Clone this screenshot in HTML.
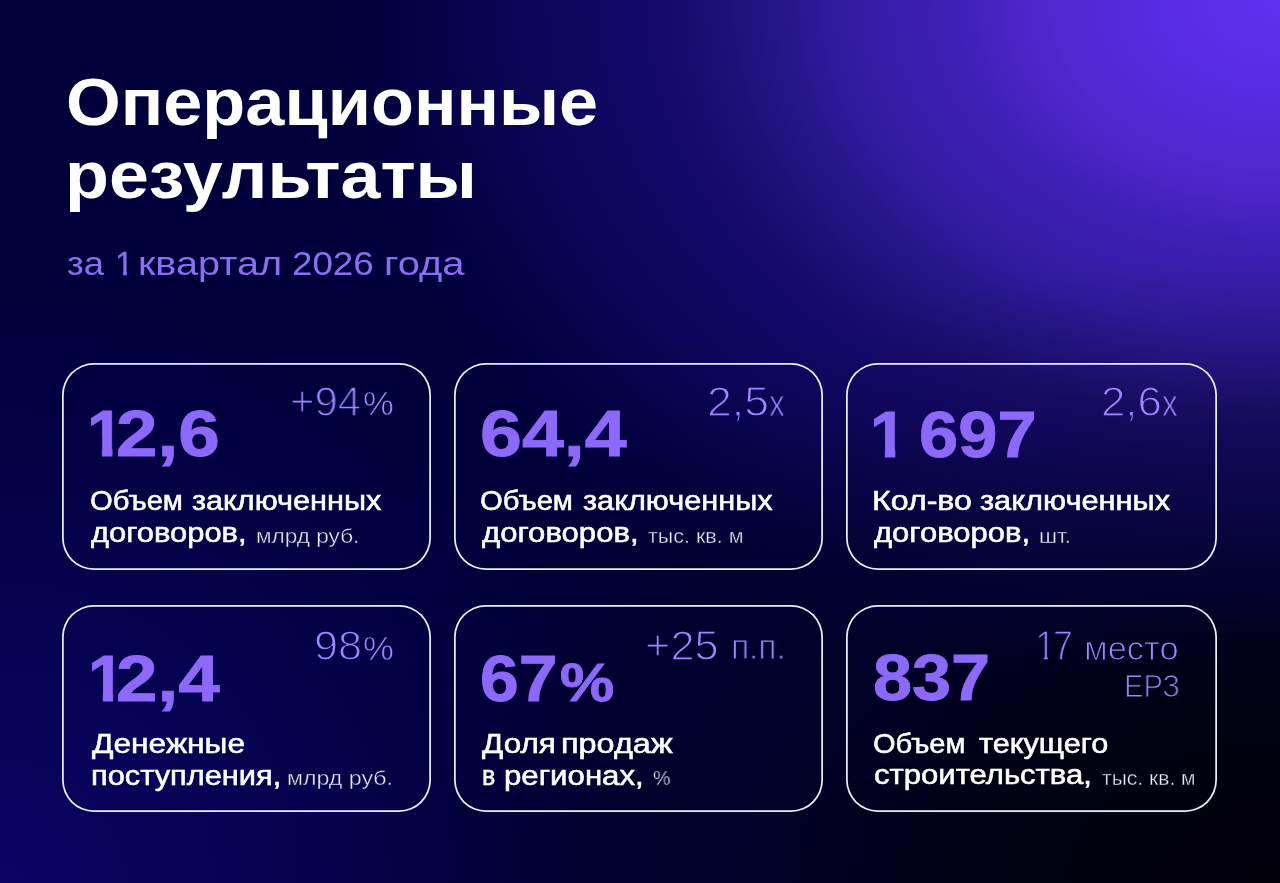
<!DOCTYPE html>
<html lang="ru"><head><meta charset="utf-8"><title>Операционные результаты</title>
<style>
html,body,h1,p{margin:0;padding:0}
h1,p{font:inherit}
body{width:1280px;height:883px;overflow:hidden;position:relative;font-family:"Liberation Sans",sans-serif;background:
 radial-gradient(ellipse 1000px 667px at 100% 100%, rgba(1,0,5,.93) 0%, rgba(1,0,5,.72) 32%, rgba(1,0,5,.45) 44%, rgba(1,0,5,.32) 55%, rgba(1,0,5,.26) 64%, rgba(1,0,5,.10) 80%, rgba(1,0,5,0) 95%),
 radial-gradient(circle 620px at 0% 100%, rgba(9,4,100,1) 0%, rgba(9,4,100,.45) 50%, rgba(9,4,100,0) 100%),
 radial-gradient(ellipse 1000px 738px at 100% 0%, rgb(96,48,238) 0%, rgb(88,44,226) 12%, rgb(78,40,208) 23%, rgb(71,36,194) 28%, rgb(63,32,184) 32%, rgb(55,29,170) 39%, rgb(47,26,156) 45%, rgb(37,20,134) 51%, rgb(28,14,114) 57%, rgb(19,8,106) 64%, rgb(13,6,92) 72%, rgb(8,4,80) 80%, rgb(4,1,66) 88%, rgb(2,0,58) 96%),
 rgb(2,0,58);}
.card{position:absolute;box-sizing:border-box;border-radius:32px;box-shadow:inset 0 0 0 1.75px rgba(246,244,255,.97);}
.t{position:absolute;white-space:nowrap;transform-origin:0 50%;margin:0;will-change:transform}
</style></head><body>

<header>
<h1>
<span class="t" style="left:66.20px;top:62.18px;font-size:67px;line-height:80px;height:80px;font-weight:700;color:#ffffff;transform:scaleX(1.0502);">Операционные</span>
<span class="t" style="left:64.91px;top:135.08px;font-size:67px;line-height:80px;height:80px;font-weight:700;color:#ffffff;transform:scaleX(1.0722);">результаты</span>
</h1>
<p>
<span class="t" style="left:66.60px;top:244.07px;font-size:33px;line-height:40px;height:40px;font-weight:400;color:#8b6ff0;transform:scaleX(1.1046);">за</span>
<span class="t bd" style="left:114.82px;top:243.92px;font-size:33px;line-height:40px;height:40px;font-weight:400;color:#8b6ff0;transform:scaleX(1.0189);-webkit-text-stroke:0.3px #8b6ff0;clip-path:polygon(-5px -5px,11.67px -5px,11.67px 200%,7.80px 200%,7.80px 21.86px,-5px 21.86px);">1</span>
<span class="t" style="left:137.70px;top:244.07px;font-size:33px;line-height:40px;height:40px;font-weight:400;color:#8b6ff0;transform:scaleX(1.2016);">квартал</span>
<span class="t" style="left:292.09px;top:244.07px;font-size:33px;line-height:40px;height:40px;font-weight:400;color:#8b6ff0;transform:scaleX(1.1132);">2026</span>
<span class="t" style="left:383.98px;top:244.07px;font-size:33px;line-height:40px;height:40px;font-weight:400;color:#8b6ff0;transform:scaleX(1.2102);">года</span>
</p>
</header>
<main>
<section>
<div class="card" style="left:62px;top:363px;width:369px;height:206.5px"></div>
<span class="t bd" style="left:87.16px;top:395.42px;font-size:65.3px;line-height:78px;height:78px;font-weight:700;color:#8d69fb;transform:scaleX(1.0256);-webkit-text-stroke:0.9px #8d69fb;clip-path:polygon(-5px -5px,24.91px -5px,24.91px 200%,14.60px 200%,14.60px 42.69px,-5px 42.69px);">1</span>
<span class="t bd" style="left:116.03px;top:395.42px;font-size:65.3px;line-height:78px;height:78px;font-weight:700;color:#8d69fb;transform:scaleX(1.1436);-webkit-text-stroke:0.9px #8d69fb;">2,6</span>
<span class="t th" style="left:290.08px;top:376.19px;font-size:42.3px;line-height:51px;height:51px;font-weight:400;color:#9d86ff;transform:scaleX(0.9893);-webkit-text-stroke:1.3px rgb(2,0,60);">+94</span>
<span class="t th" style="left:362.55px;top:384.46px;font-size:33.3px;line-height:40px;height:40px;font-weight:400;color:#9d86ff;transform:scaleX(1.0401);-webkit-text-stroke:0.6px rgb(2,0,59);">%</span>
<span class="t bd" style="left:89.72px;top:484.87px;font-size:27px;line-height:32px;height:32px;font-weight:400;color:#ffffff;transform:scaleX(1.0802);-webkit-text-stroke:0.55px #ffffff;">Объем</span>
<span class="t bd" style="left:192.31px;top:484.87px;font-size:27px;line-height:32px;height:32px;font-weight:400;color:#ffffff;transform:scaleX(1.1354);-webkit-text-stroke:0.55px #ffffff;">заключенных</span>
<span class="t bd" style="left:90.81px;top:516.97px;font-size:27px;line-height:32px;height:32px;font-weight:400;color:#ffffff;transform:scaleX(1.1442);-webkit-text-stroke:0.55px #ffffff;">договоров,</span>
<span class="t th" style="left:256.18px;top:523.62px;font-size:20.4px;line-height:24px;height:24px;font-weight:400;color:#ebe9fa;transform:scaleX(1.1088);-webkit-text-stroke:0.38px rgb(4,1,68);">млрд руб.</span>
</section>
<section>
<div class="card" style="left:454px;top:363px;width:369px;height:206.5px"></div>
<span class="t bd" style="left:480.21px;top:395.22px;font-size:65.3px;line-height:78px;height:78px;font-weight:700;color:#8d69fb;transform:scaleX(1.1538);-webkit-text-stroke:0.9px #8d69fb;">64,4</span>
<span class="t th" style="left:707.40px;top:376.39px;font-size:42.3px;line-height:51px;height:51px;font-weight:400;color:#9d86ff;transform:scaleX(1.0560);-webkit-text-stroke:1.3px rgb(10,5,82);">2,5</span>
<span class="t th" style="left:769.11px;top:382.31px;font-size:36.2px;line-height:43px;height:43px;font-weight:400;color:#9d86ff;transform:scaleX(0.8713);-webkit-text-stroke:0.9px rgb(11,5,85);">x</span>
<span class="t bd" style="left:480.47px;top:484.87px;font-size:27px;line-height:32px;height:32px;font-weight:400;color:#ffffff;transform:scaleX(1.0802);-webkit-text-stroke:0.55px #ffffff;">Объем</span>
<span class="t bd" style="left:582.81px;top:484.87px;font-size:27px;line-height:32px;height:32px;font-weight:400;color:#ffffff;transform:scaleX(1.1369);-webkit-text-stroke:0.55px #ffffff;">заключенных</span>
<span class="t bd" style="left:481.82px;top:516.97px;font-size:27px;line-height:32px;height:32px;font-weight:400;color:#ffffff;transform:scaleX(1.1516);-webkit-text-stroke:0.55px #ffffff;">договоров,</span>
<span class="t th" style="left:647.80px;top:523.62px;font-size:20.4px;line-height:24px;height:24px;font-weight:400;color:#ebe9fa;transform:scaleX(1.0535);-webkit-text-stroke:0.38px rgb(3,0,54);">тыс. кв. м</span>
</section>
<section>
<div class="card" style="left:846px;top:363px;width:370.5px;height:206.5px"></div>
<span class="t bd" style="left:870.08px;top:395.52px;font-size:65.3px;line-height:78px;height:78px;font-weight:700;color:#8d69fb;transform:scaleX(1.0208);-webkit-text-stroke:0.9px #8d69fb;clip-path:polygon(-5px -5px,24.91px -5px,24.91px 200%,14.60px 200%,14.60px 42.69px,-5px 42.69px);">1</span>
<span class="t bd" style="left:919.23px;top:395.52px;font-size:65.3px;line-height:78px;height:78px;font-weight:700;color:#8d69fb;transform:scaleX(1.0793);-webkit-text-stroke:0.9px #8d69fb;">697</span>
<span class="t th" style="left:1100.56px;top:376.39px;font-size:42.3px;line-height:51px;height:51px;font-weight:400;color:#9d86ff;transform:scaleX(1.0357);-webkit-text-stroke:1.3px rgb(24,13,98);">2,6</span>
<span class="t th" style="left:1162.31px;top:382.31px;font-size:36.2px;line-height:43px;height:43px;font-weight:400;color:#9d86ff;transform:scaleX(0.8655);-webkit-text-stroke:0.9px rgb(25,13,99);">x</span>
<span class="t bd" style="left:872.45px;top:484.87px;font-size:27px;line-height:32px;height:32px;font-weight:400;color:#ffffff;transform:scaleX(1.1904);-webkit-text-stroke:0.55px #ffffff;">Кол-во</span>
<span class="t bd" style="left:979.81px;top:484.87px;font-size:27px;line-height:32px;height:32px;font-weight:400;color:#ffffff;transform:scaleX(1.1399);-webkit-text-stroke:0.55px #ffffff;">заключенных</span>
<span class="t bd" style="left:874.32px;top:516.97px;font-size:27px;line-height:32px;height:32px;font-weight:400;color:#ffffff;transform:scaleX(1.1479);-webkit-text-stroke:0.55px #ffffff;">договоров,</span>
<span class="t th" style="left:1039.44px;top:523.62px;font-size:20.4px;line-height:24px;height:24px;font-weight:400;color:#ebe9fa;transform:scaleX(1.1034);-webkit-text-stroke:0.38px rgb(8,4,61);">шт.</span>
</section>
<section>
<div class="card" style="left:62px;top:605.3px;width:369px;height:207px"></div>
<span class="t bd" style="left:87.63px;top:639.52px;font-size:65.3px;line-height:78px;height:78px;font-weight:700;color:#8d69fb;transform:scaleX(1.0185);-webkit-text-stroke:0.9px #8d69fb;clip-path:polygon(-5px -5px,24.91px -5px,24.91px 200%,14.60px 200%,14.60px 42.69px,-5px 42.69px);">1</span>
<span class="t bd" style="left:115.73px;top:639.52px;font-size:65.3px;line-height:78px;height:78px;font-weight:700;color:#8d69fb;transform:scaleX(1.1415);-webkit-text-stroke:0.9px #8d69fb;">2,4</span>
<span class="t th" style="left:313.81px;top:619.99px;font-size:42.3px;line-height:51px;height:51px;font-weight:400;color:#9d86ff;transform:scaleX(1.0226);-webkit-text-stroke:1.3px rgb(4,1,71);">98</span>
<span class="t th" style="left:363.47px;top:627.59px;font-size:33.8px;line-height:41px;height:41px;font-weight:400;color:#9d86ff;transform:scaleX(1.0255);-webkit-text-stroke:0.6px rgb(4,1,69);">%</span>
<span class="t bd" style="left:91.57px;top:728.17px;font-size:27px;line-height:32px;height:32px;font-weight:400;color:#ffffff;transform:scaleX(1.1744);-webkit-text-stroke:0.55px #ffffff;">Денежные</span>
<span class="t bd" style="left:91.17px;top:759.57px;font-size:27px;line-height:32px;height:32px;font-weight:400;color:#ffffff;transform:scaleX(1.1404);-webkit-text-stroke:0.55px #ffffff;">поступления,</span>
<span class="t th" style="left:287.40px;top:766.12px;font-size:20.4px;line-height:24px;height:24px;font-weight:400;color:#ebe9fa;transform:scaleX(1.1365);-webkit-text-stroke:0.38px rgb(5,2,74);">млрд руб.</span>
</section>
<section>
<div class="card" style="left:454px;top:605.3px;width:369px;height:207px"></div>
<span class="t bd" style="left:480.35px;top:639.52px;font-size:65.3px;line-height:78px;height:78px;font-weight:700;color:#8d69fb;transform:scaleX(1.0662);-webkit-text-stroke:0.9px #8d69fb;">67</span>
<span class="t bd" style="left:560.07px;top:650.79px;font-size:53px;line-height:64px;height:64px;font-weight:700;color:#8d69fb;transform:scaleX(1.1503);-webkit-text-stroke:0.9px #8d69fb;">%</span>
<span class="t th" style="left:645.03px;top:619.69px;font-size:42.3px;line-height:51px;height:51px;font-weight:400;color:#9d86ff;transform:scaleX(1.0273);-webkit-text-stroke:1.3px rgb(2,0,47);">+25</span>
<span class="t th" style="left:731.32px;top:627.32px;font-size:34.3px;line-height:41px;height:41px;font-weight:400;color:#9d86ff;transform:scaleX(0.9739);-webkit-text-stroke:1.0px rgb(2,0,44);">п.п.</span>
<span class="t bd" style="left:481.57px;top:728.17px;font-size:27px;line-height:32px;height:32px;font-weight:400;color:#ffffff;transform:scaleX(1.1634);-webkit-text-stroke:0.55px #ffffff;">Доля</span>
<span class="t bd" style="left:561.13px;top:728.17px;font-size:27px;line-height:32px;height:32px;font-weight:400;color:#ffffff;transform:scaleX(1.2016);-webkit-text-stroke:0.55px #ffffff;">продаж</span>
<span class="t bd" style="left:481.83px;top:759.57px;font-size:27px;line-height:32px;height:32px;font-weight:400;color:#ffffff;transform:scaleX(0.9225);-webkit-text-stroke:0.55px #ffffff;">в</span>
<span class="t bd" style="left:504.16px;top:759.57px;font-size:27px;line-height:32px;height:32px;font-weight:400;color:#ffffff;transform:scaleX(1.1559);-webkit-text-stroke:0.55px #ffffff;">регионах,</span>
<span class="t th" style="left:652.82px;top:766.12px;font-size:20.4px;line-height:24px;height:24px;font-weight:400;color:#ebe9fa;transform:scaleX(0.9648);-webkit-text-stroke:0.38px rgb(2,0,44);">%</span>
</section>
<section>
<div class="card" style="left:846px;top:605.3px;width:370.5px;height:207px"></div>
<span class="t bd" style="left:873.08px;top:639.22px;font-size:65.3px;line-height:78px;height:78px;font-weight:700;color:#8d69fb;transform:scaleX(1.0750);-webkit-text-stroke:0.9px #8d69fb;">837</span>
<span class="t th" style="left:1034.91px;top:619.89px;font-size:42.3px;line-height:51px;height:51px;font-weight:400;color:#9d86ff;transform:scaleX(0.8728);-webkit-text-stroke:1.3px rgb(2,1,36);clip-path:polygon(-5px -5px,14.68px -5px,14.68px 200%,10.27px 200%,10.27px 27.89px,-5px 27.89px);">1</span>
<span class="t th" style="left:1053.38px;top:619.89px;font-size:42.3px;line-height:51px;height:51px;font-weight:400;color:#9d86ff;transform:scaleX(0.8369);-webkit-text-stroke:1.3px rgb(2,1,35);">7</span>
<span class="t th" style="left:1083.72px;top:627.62px;font-size:34px;line-height:41px;height:41px;font-weight:400;color:#9d86ff;transform:scaleX(1.0131);-webkit-text-stroke:1.0px rgb(2,0,30);">место</span>
<span class="t th" style="left:1123.62px;top:668.30px;font-size:30.6px;line-height:37px;height:37px;font-weight:400;color:#9d86ff;transform:scaleX(0.9513);-webkit-text-stroke:1.0px rgb(1,0,21);">ЕРЗ</span>
<span class="t bd" style="left:873.22px;top:728.17px;font-size:27px;line-height:32px;height:32px;font-weight:400;color:#ffffff;transform:scaleX(1.0749);-webkit-text-stroke:0.55px #ffffff;">Объем</span>
<span class="t bd" style="left:979.21px;top:728.17px;font-size:27px;line-height:32px;height:32px;font-weight:400;color:#ffffff;transform:scaleX(1.1355);-webkit-text-stroke:0.55px #ffffff;">текущего</span>
<span class="t bd" style="left:873.92px;top:759.37px;font-size:27px;line-height:32px;height:32px;font-weight:400;color:#ffffff;transform:scaleX(1.1504);-webkit-text-stroke:0.55px #ffffff;">строительства,</span>
<span class="t th" style="left:1102.20px;top:766.02px;font-size:20.4px;line-height:24px;height:24px;font-weight:400;color:#ebe9fa;transform:scaleX(1.0322);-webkit-text-stroke:0.38px rgb(1,0,16);">тыс. кв. м</span>
</section>
</main>
</body></html>
